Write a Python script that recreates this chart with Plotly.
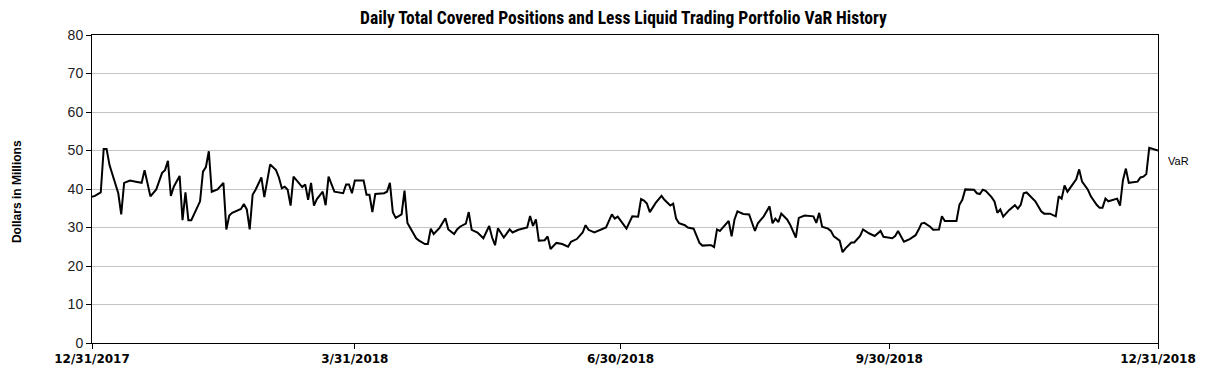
import plotly.graph_objects as go

dates = [
    "2017-12-31", "2018-01-01", "2018-01-03", "2018-01-04", "2018-01-05", "2018-01-06",
    "2018-01-09", "2018-01-10", "2018-01-11", "2018-01-13", "2018-01-15", "2018-01-17",
    "2018-01-18", "2018-01-20", "2018-01-22", "2018-01-23", "2018-01-24", "2018-01-25",
    "2018-01-26", "2018-01-27", "2018-01-28", "2018-01-30", "2018-01-31", "2018-02-01",
    "2018-02-02", "2018-02-03", "2018-02-06", "2018-02-07", "2018-02-08", "2018-02-09",
    "2018-02-10", "2018-02-12", "2018-02-14", "2018-02-15", "2018-02-16", "2018-02-17",
    "2018-02-20", "2018-02-21", "2018-02-22", "2018-02-23", "2018-02-24", "2018-02-25",
    "2018-02-27", "2018-02-28", "2018-03-02", "2018-03-04", "2018-03-05", "2018-03-06",
    "2018-03-07", "2018-03-08", "2018-03-09", "2018-03-10", "2018-03-11", "2018-03-13",
    "2018-03-14", "2018-03-15", "2018-03-16", "2018-03-17", "2018-03-18", "2018-03-20",
    "2018-03-21", "2018-03-22", "2018-03-24", "2018-03-27", "2018-03-28", "2018-03-29",
    "2018-03-30", "2018-03-31", "2018-04-03", "2018-04-04", "2018-04-05", "2018-04-06",
    "2018-04-07", "2018-04-10", "2018-04-11", "2018-04-12", "2018-04-13", "2018-04-14",
    "2018-04-16", "2018-04-17", "2018-04-18", "2018-04-20", "2018-04-21", "2018-04-22",
    "2018-04-24", "2018-04-25", "2018-04-26", "2018-04-27", "2018-04-29", "2018-05-01",
    "2018-05-02", "2018-05-04", "2018-05-05", "2018-05-06", "2018-05-08", "2018-05-09",
    "2018-05-10", "2018-05-12", "2018-05-14", "2018-05-16", "2018-05-17", "2018-05-18",
    "2018-05-19", "2018-05-21", "2018-05-23", "2018-05-24", "2018-05-26", "2018-05-29",
    "2018-05-30", "2018-05-31", "2018-06-01", "2018-06-02", "2018-06-04", "2018-06-05",
    "2018-06-06", "2018-06-08", "2018-06-10", "2018-06-12", "2018-06-13", "2018-06-15",
    "2018-06-17", "2018-06-18", "2018-06-19", "2018-06-21", "2018-06-23", "2018-06-25",
    "2018-06-27", "2018-06-28", "2018-06-29", "2018-06-30", "2018-07-02", "2018-07-04",
    "2018-07-06", "2018-07-07", "2018-07-08", "2018-07-09", "2018-07-10", "2018-07-12",
    "2018-07-14", "2018-07-15", "2018-07-17", "2018-07-18", "2018-07-19", "2018-07-20",
    "2018-07-22", "2018-07-23", "2018-07-25", "2018-07-27", "2018-07-28", "2018-07-30",
    "2018-07-31", "2018-08-01", "2018-08-02", "2018-08-03", "2018-08-05", "2018-08-06",
    "2018-08-07", "2018-08-08", "2018-08-09", "2018-08-11", "2018-08-13", "2018-08-15",
    "2018-08-16", "2018-08-18", "2018-08-20", "2018-08-21", "2018-08-22", "2018-08-23",
    "2018-08-24", "2018-08-26", "2018-08-27", "2018-08-28", "2018-08-29", "2018-08-30",
    "2018-09-01", "2018-09-04", "2018-09-05", "2018-09-06", "2018-09-07", "2018-09-09",
    "2018-09-10", "2018-09-11", "2018-09-13", "2018-09-14", "2018-09-15", "2018-09-17",
    "2018-09-18", "2018-09-20", "2018-09-21", "2018-09-23", "2018-09-25", "2018-09-27",
    "2018-09-28", "2018-10-01", "2018-10-02", "2018-10-03", "2018-10-05", "2018-10-07",
    "2018-10-09", "2018-10-10", "2018-10-11", "2018-10-12", "2018-10-14", "2018-10-15",
    "2018-10-17", "2018-10-18", "2018-10-19", "2018-10-23", "2018-10-24", "2018-10-25",
    "2018-10-26", "2018-10-29", "2018-10-30", "2018-10-31", "2018-11-01", "2018-11-02",
    "2018-11-04", "2018-11-05", "2018-11-06", "2018-11-07", "2018-11-08", "2018-11-10",
    "2018-11-12", "2018-11-13", "2018-11-14", "2018-11-15", "2018-11-16", "2018-11-19",
    "2018-11-21", "2018-11-22", "2018-11-24", "2018-11-26", "2018-11-27", "2018-11-28",
    "2018-11-29", "2018-11-30", "2018-12-03", "2018-12-04", "2018-12-05", "2018-12-07",
    "2018-12-08", "2018-12-10", "2018-12-11", "2018-12-12", "2018-12-13", "2018-12-14",
    "2018-12-16", "2018-12-17", "2018-12-18", "2018-12-19", "2018-12-20", "2018-12-21",
    "2018-12-24", "2018-12-25", "2018-12-26", "2018-12-27", "2018-12-28", "2018-12-30",
    "2018-12-31",
]

var_values = [
    38.0, 38.2, 39.1, 50.4, 50.4, 46.2,
    38.9, 33.4, 41.6, 42.2, 41.9, 41.6,
    44.9, 38.1, 39.9, 41.9, 44.2, 44.9,
    47.3, 38.2, 40.6, 43.4, 31.9, 39.1,
    31.9, 31.9, 36.8, 44.5, 45.7, 49.8,
    39.3, 39.9, 41.6, 29.5, 33.1, 33.8,
    34.8, 36.1, 34.7, 29.5, 38.5, 39.8,
    43.0, 37.9, 46.4, 44.9, 43.0, 40.2,
    40.6, 39.8, 35.7, 43.2, 42.2, 40.5,
    41.2, 37.2, 41.6, 35.7, 37.4, 39.3,
    35.8, 43.2, 39.3, 38.9, 41.2, 41.2,
    38.9, 42.2, 42.2, 38.5, 38.5, 34.0,
    38.7, 38.9, 39.3, 41.6, 34.0, 32.5,
    33.4, 39.6, 31.2, 28.3, 27.2, 26.6,
    25.7, 25.7, 29.7, 28.3, 29.9, 32.4,
    29.5, 28.3, 29.5, 30.2, 31.0, 34.0,
    29.4, 28.7, 27.2, 30.4, 27.4, 25.4,
    29.8, 27.4, 29.5, 28.7, 29.4, 30.0,
    33.0, 30.4, 32.1, 26.6, 26.7, 27.7,
    24.4, 26.0, 25.7, 25.0, 26.3, 27.0,
    28.7, 30.6, 29.4, 28.7, 29.4, 30.0,
    33.4, 32.3, 32.8, 31.7, 29.7, 32.9,
    32.8, 37.4, 37.0, 36.2, 34.0, 36.4,
    38.2, 37.2, 35.7, 36.2, 32.3, 31.1,
    30.6, 30.0, 29.7, 26.0, 25.3, 25.4,
    25.4, 24.9, 29.5, 29.1, 30.8, 31.7,
    27.7, 32.1, 34.2, 33.5, 33.4, 29.1,
    31.1, 32.9, 35.5, 31.1, 32.3, 31.4,
    33.6, 32.1, 30.8, 28.9, 27.4, 32.5,
    33.1, 32.9, 31.2, 33.8, 30.2, 29.7,
    29.1, 27.7, 26.6, 23.6, 24.6, 26.1,
    26.1, 27.8, 29.5, 28.5, 27.8, 29.1,
    27.6, 27.2, 27.8, 29.1, 26.3, 27.0,
    28.0, 29.4, 31.0, 31.2, 30.2, 29.4,
    29.5, 32.9, 31.7, 31.7, 35.9, 37.2,
    39.9, 39.8, 38.9, 38.7, 39.8, 39.5,
    37.9, 36.8, 33.8, 34.7, 32.8, 34.5,
    35.8, 34.9, 35.9, 38.9, 39.1, 36.8,
    34.2, 33.6, 33.6, 32.9, 38.1, 37.5,
    40.9, 39.3, 42.5, 45.1, 41.9, 39.8,
    38.1, 35.9, 35.1, 35.1, 37.5, 36.8,
    37.2, 37.5, 35.7, 42.3, 45.3, 41.6,
    41.9, 43.0, 43.2, 43.9, 50.7, 50.3,
    50.0,
]

tick_dates = ["2017-12-31", "2018-03-31", "2018-06-30", "2018-09-30", "2018-12-31"]
tick_labels = ["12/31/2017", "3/31/2018", "6/30/2018", "9/30/2018", "12/31/2018"]

title_text = "Daily Total Covered Positions and Less Liquid Trading Portfolio VaR History"
y_title = "Dollars in Millions"
series_name = "VaR"
label_y = 47.2

fig = go.Figure()
fig.add_trace(go.Scatter(
    x=dates, y=var_values, mode="lines", name=series_name,
    line=dict(color="#000000", width=2), showlegend=False,
))

fig.add_annotation(
    x=1.0, xref="paper", y=label_y, yref="y", text=series_name,
    showarrow=False, xanchor="left", xshift=8,
    font=dict(family="Liberation Sans, Arial, sans-serif", size=11, color="#000000"),
)

fig.add_annotation(
    x=0.0, xref="paper", y=0.49, yref="paper", text="<b>" + y_title + "</b>",
    showarrow=False, textangle=-90, xanchor="center", yanchor="middle", xshift=-75,
    font=dict(family="Liberation Sans, Arial, sans-serif", size=12, color="#000000"),
)

fig.add_annotation(
    x=0.4985, xref="paper", y=1.0, yref="paper", text="<b>" + title_text + "</b>",
    showarrow=False, xanchor="center", yanchor="bottom", yshift=5,
    font=dict(family="Roboto Condensed, Roboto, sans-serif", size=17.5, color="#000000"),
)

fig.update_layout(
    width=1201, height=369,
    margin=dict(l=84, r=51, t=27, b=34, autoexpand=False),
    paper_bgcolor="white", plot_bgcolor="white",
    xaxis=dict(
        type="date", automargin=False,
        range=["2017-12-31", "2018-12-31"],
        tickvals=tick_dates, ticktext=tick_labels,
        ticks="outside", ticklen=5, tickcolor="#000000",
        showline=True, linecolor="#000000", linewidth=1, mirror=True,
        showgrid=False, zeroline=False,
        tickfont=dict(family="DejaVu Sans, Verdana, sans-serif", size=12, color="#000000", weight="bold"),
    ),
    yaxis=dict(
        range=[0, 80], dtick=10, tick0=0, automargin=False,
        ticks="outside", ticklen=5, tickcolor="#000000",
        showline=True, linecolor="#000000", linewidth=1, mirror=True,
        showgrid=True, gridcolor="#c4c4c4", gridwidth=1, zeroline=False,
        tickfont=dict(family="Liberation Sans, Arial, sans-serif", size=14, color="#222222"),
    ),
)

fig.write_html("out.html")
